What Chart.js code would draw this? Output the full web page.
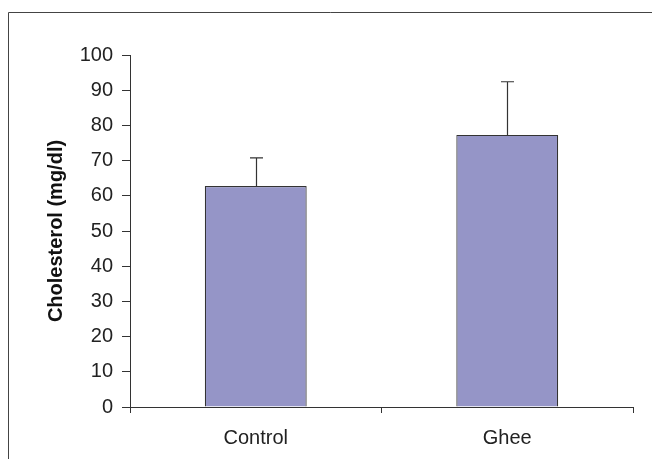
<!DOCTYPE html>
<html>
<head>
<meta charset="utf-8">
<script src="https://cdn.jsdelivr.net/npm/chart.js@4"></script>
<style>
  body { margin: 0; background: #fff; }
  #wrap { width: 652px; height: 459px; position: relative; }
</style>
</head>
<body>
<div id="wrap"><canvas id="chol-chart" width="652" height="459"></canvas></div>
<script>
// values
const groups = ['Control', 'Ghee'];
const cholMean = [62.8, 77.3];
const cholErr = [8.0, 15.1];
const yTicks = [0, 10, 20, 30, 40, 50, 60, 70, 80, 90, 100];

// outer frame (only top and left edges are visible in the figure)
const framePlugin = {
    id: 'frame',
    beforeDraw(chart) {
        const c = chart.ctx;
        c.save();
        c.strokeStyle = '#444';
        c.lineWidth = 1;
        c.beginPath();
        c.moveTo(8.5, 459);
        c.lineTo(8.5, 12.5);
        c.lineTo(652, 12.5);
        c.stroke();
        c.restore();
    }
};

// upward error bars with a cap
const errorBars = {
    id: 'errorBars',
    afterDatasetsDraw(chart) {
        const c = chart.ctx;
        const y = chart.scales.y;
        const meta = chart.getDatasetMeta(0);
        c.save();
        c.strokeStyle = '#333';
        c.lineWidth = 1.2;
        meta.data.forEach(function(bar, i){
            const x = Math.round(bar.x) + 0.5;
            const top = y.getPixelForValue(cholMean[i] + cholErr[i]);
            const base = y.getPixelForValue(cholMean[i]);
            c.beginPath();
            c.moveTo(x, base);
            c.lineTo(x, top);
            c.moveTo(x - 6.5, top);
            c.lineTo(x + 6.5, top);
            c.stroke();
        });
        c.restore();
    }
};

const canvas = document.getElementById('chol-chart').getContext('2d');
const main_chart = new Chart(canvas, {
    type: 'bar',
    data: {
        labels: groups,
        datasets: [{
            data: cholMean,
            backgroundColor: '#9595c7',
            borderColor: '#333',
            borderWidth: 1.2,
            categoryPercentage: 0.81,
            barPercentage: 0.5
        }]
    },
    options: {
        responsive: false,
        animation: false,
        devicePixelRatio: 1,
        layout: { padding: { left: 0, top: 55, right: 19, bottom: 0 } },
        plugins: {
            legend: { display: false },
            tooltip: { enabled: false }
        },
        scales: {
            x: {
                grid: { offset: true, drawOnChartArea: false, drawTicks: true, tickLength: 6, color: '#333' },
                border: { display: true, color: '#333' },
                ticks: { color: '#222', padding: 13, font: { family: 'Liberation Sans', size: 20 } },
                afterFit(scale) { scale.height = 52; }
            },
            y: {
                min: 0,
                max: 100,
                afterBuildTicks(scale) { scale.ticks = yTicks.map(v => ({ value: v })); },
                grid: { drawOnChartArea: false, drawTicks: true, tickLength: 8, color: '#333' },
                border: { display: true, color: '#333' },
                ticks: { color: '#222', padding: 9, font: { family: 'Liberation Sans', size: 20 } },
                title: {
                    display: true,
                    text: 'Cholesterol (mg/dl)',
                    color: '#111',
                    padding: { top: 44, bottom: 0 },
                    font: { family: 'Liberation Sans', size: 20, weight: 'bold' }
                },
                afterFit(scale) { scale.width = 130; }
            }
        }
    },
    plugins: [framePlugin, errorBars]
});
</script>
</body>
</html>
